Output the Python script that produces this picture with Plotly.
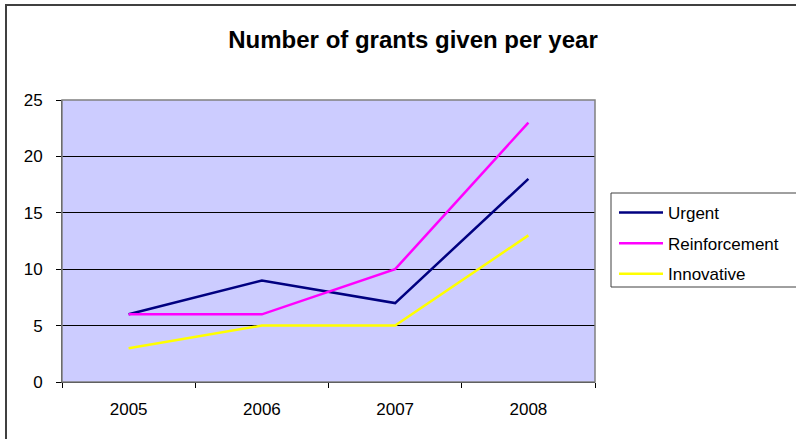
import plotly.graph_objects as go

years = ["2005", "2006", "2007", "2008"]
urgent = [6, 9, 7, 18]
reinforcement = [6, 6, 10, 23]
innovative = [3, 5, 5, 13]
y_ticks = [0, 5, 10, 15, 20, 25]

W, H = 796, 439
L, R, T, B = 62, 595, 100, 382
pw, ph = R - L, B - T

def px(x):
    return (x - L) / pw

def py(y):
    return (B - y) / ph

fig = go.Figure()
series = [("Urgent", urgent, "#000080"), ("Reinforcement", reinforcement, "#FF00FF"), ("Innovative", innovative, "#FFFF00")]
for i, (name, vals, col) in enumerate(series):
    fig.add_trace(go.Scatter(x=years, y=vals, name=name, mode="lines",
                             line=dict(color=col, width=2.5), legendgroup=f"g{i}"))

font = "Liberation Sans, Arial, sans-serif"
fig.update_layout(
    width=W, height=H,
    margin=dict(l=L, r=W - R, t=T, b=H - B, pad=0),
    paper_bgcolor="white", plot_bgcolor="#CCCCFF",
    font=dict(family=font, size=17, color="black"),
    title=dict(text="<b>Number of grants given per year</b>", x=413 / W, xref="container", xanchor="center",
               y=1 - 40 / H, yanchor="middle", font=dict(size=24, family=font)),
    showlegend=True,
    legend=dict(x=px(614), y=py(195), xanchor="left", yanchor="top", bgcolor="rgba(0,0,0,0)",
                borderwidth=0, font=dict(size=17), tracegroupgap=5.5, traceorder="grouped",
                itemwidth=44),
    xaxis=dict(type="category", range=[-0.5, 3.5], showgrid=False, showline=True, linecolor="#000",
               linewidth=1, ticks="outside", ticklen=5, tickcolor="#000", tickson="boundaries",
               ticklabelstandoff=12, zeroline=False, fixedrange=True),
    yaxis=dict(range=[0, 25], tickvals=y_ticks, showgrid=True, gridcolor="#000", gridwidth=1,
               showline=True, linecolor="#333", linewidth=1, ticks="outside", ticklen=5, tickcolor="#000",
               ticklabelstandoff=10, zeroline=False, fixedrange=True),
    shapes=[
        dict(type="rect", xref="paper", yref="paper", x0=0, x1=1, y0=0, y1=1,
             line=dict(color="#808080", width=1.5), layer="above"),
        dict(type="rect", xref="paper", yref="paper", x0=px(611), x1=px(805), y0=py(287), y1=py(193),
             line=dict(color="#404040", width=1)),
        dict(type="rect", xref="paper", yref="paper", x0=px(6), x1=px(810), y0=py(450), y1=py(5),
             line=dict(color="#404040", width=2)),
    ],
)

fig.write_html("out.html", config={"displayModeBar": False},
               post_script="document.body.style.margin='0';")
